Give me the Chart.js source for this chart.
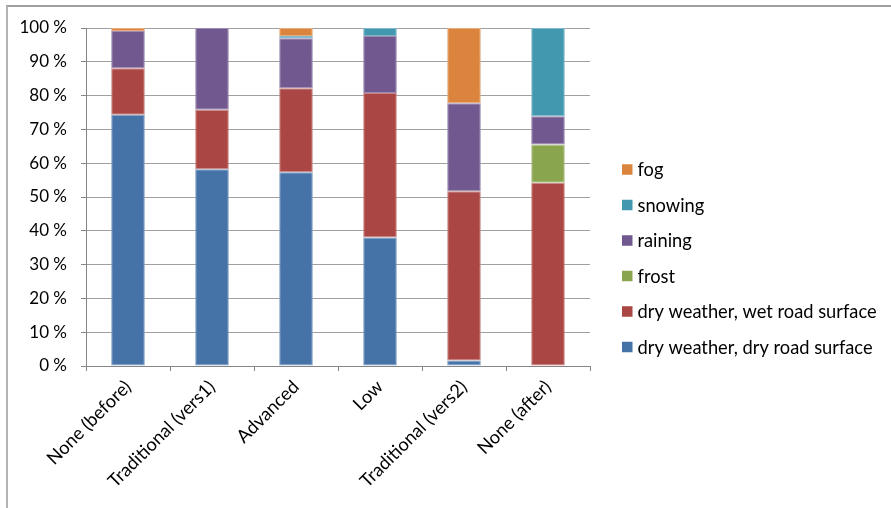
<!DOCTYPE html>
<html>
<head>
<meta charset="utf-8">
<script src="https://cdn.jsdelivr.net/npm/chart.js@4/dist/chart.umd.min.js"></script>
<style>
  html, body { margin: 0; padding: 0; background: #fff; overflow: hidden; }
  #frame { position: absolute; left: 6px; top: 5px; width: 900px; height: 520px;
           border-top: 2px solid #a0a0a0; border-left: 2px solid #b4b4b4; }
  #wrap { position: absolute; left: 0; top: 0; width: 891px; height: 508px; }
</style>
</head>
<body>
<div id="frame"></div>
<div id="wrap"><canvas id="c" width="891" height="508"></canvas></div>
<script>
// Road-weather share (%) per treatment category
const categories = ['None (before)', 'Traditional (vers1)', 'Advanced', 'Low', 'Traditional (vers2)', 'None (after)'];
const yTicks = [0, 10, 20, 30, 40, 50, 60, 70, 80, 90, 100];

const dryDry  = [74.3, 58.2, 57.3, 38.0,  1.6,  0.0];
const dryWet  = [13.8, 17.6, 24.9, 42.8, 50.1, 54.2];
const frost   = [ 0.0,  0.0,  0.0,  0.0,  0.0, 11.3];
const raining = [11.0, 24.2, 14.8, 16.8, 26.0,  8.4];
const snowing = [ 0.0,  0.0,  0.6,  2.4,  0.0, 26.1];
const fog     = [ 0.9,  0.0,  2.4,  0.0, 22.3,  0.0];

const FAMILY = 'Lato, "Liberation Sans", sans-serif';
const NUM_FONT = { family: FAMILY, size: 17 };
const TEXT_FONT = { family: FAMILY, size: 18.3 };

function series(label, data, fill, edge) {
  return {
    label, data,
    backgroundColor: fill,
    borderColor: edge,
    borderWidth: 1,
    borderSkipped: false,
    barPercentage: 0.4,
    categoryPercentage: 1.0
  };
}

// Vertical legend on the right, top entry = last stacked series
const sideLegend = {
  id: 'sideLegend',
  afterDraw(chart, args, opts) {
    const { ctx, chartArea } = chart;
    const ds = chart.data.datasets;
    const left = chartArea.right + opts.gap;
    ctx.save();
    ctx.font = `${TEXT_FONT.size}px ${TEXT_FONT.family}`;
    ctx.textBaseline = 'middle';
    ctx.textAlign = 'left';
    for (let i = 0; i < ds.length; i++) {
      const d = ds[ds.length - 1 - i];
      const y = opts.top + i * opts.spacing;
      ctx.fillStyle = d.backgroundColor;
      ctx.fillRect(left, y - opts.box / 2, opts.box, opts.box);
      ctx.fillStyle = '#000';
      ctx.fillText(d.label, left + opts.box + 5, y + 1);
    }
    ctx.restore();
  }
};

new Chart(document.getElementById('c'), {
  type: 'bar',
  data: {
    labels: categories,
    datasets: [
      series('dry weather, dry road surface', dryDry,  '#4572A7', '#7f9ec4'),
      series('dry weather, wet road surface', dryWet,  '#AA4643', '#c98583'),
      series('frost',                         frost,   '#89A54E', '#adc18a'),
      series('raining',                       raining, '#71588F', '#9d8bb3'),
      series('snowing',                       snowing, '#4198AF', '#80b9c9'),
      series('fog',                           fog,     '#DB843D', '#e8ab7a')
    ]
  },
  options: {
    responsive: false,
    animation: false,
    layout: { padding: { left: 0, top: 28, right: 301, bottom: 0 } },
    plugins: {
      legend: { display: false },
      tooltip: { enabled: false },
      sideLegend: { gap: 32, top: 169.5, spacing: 35.5, box: 10.5 }
    },
    scales: {
      x: {
        stacked: true,
        grid: { display: true, drawOnChartArea: false, drawTicks: true, tickLength: 5,
                color: '#868686', offset: true },
        border: { color: '#868686', width: 1 },
        ticks: { minRotation: 45, maxRotation: 45, color: '#000', font: TEXT_FONT, padding: 5 },
        afterFit(s) { s.height = 142; }
      },
      y: {
        stacked: true,
        min: 0,
        max: 100,
        afterBuildTicks(s) { s.ticks = yTicks.map(v => ({ value: v })); },
        ticks: { color: '#000', font: NUM_FONT, padding: 14, callback: v => v + ' %' },
        grid: { color: '#a0a0a0', tickColor: '#868686', tickLength: 5 },
        border: { color: '#868686', width: 1 },
        afterFit(s) { s.width = 86; }
      }
    }
  },
  plugins: [sideLegend]
});
</script>
</body>
</html>
